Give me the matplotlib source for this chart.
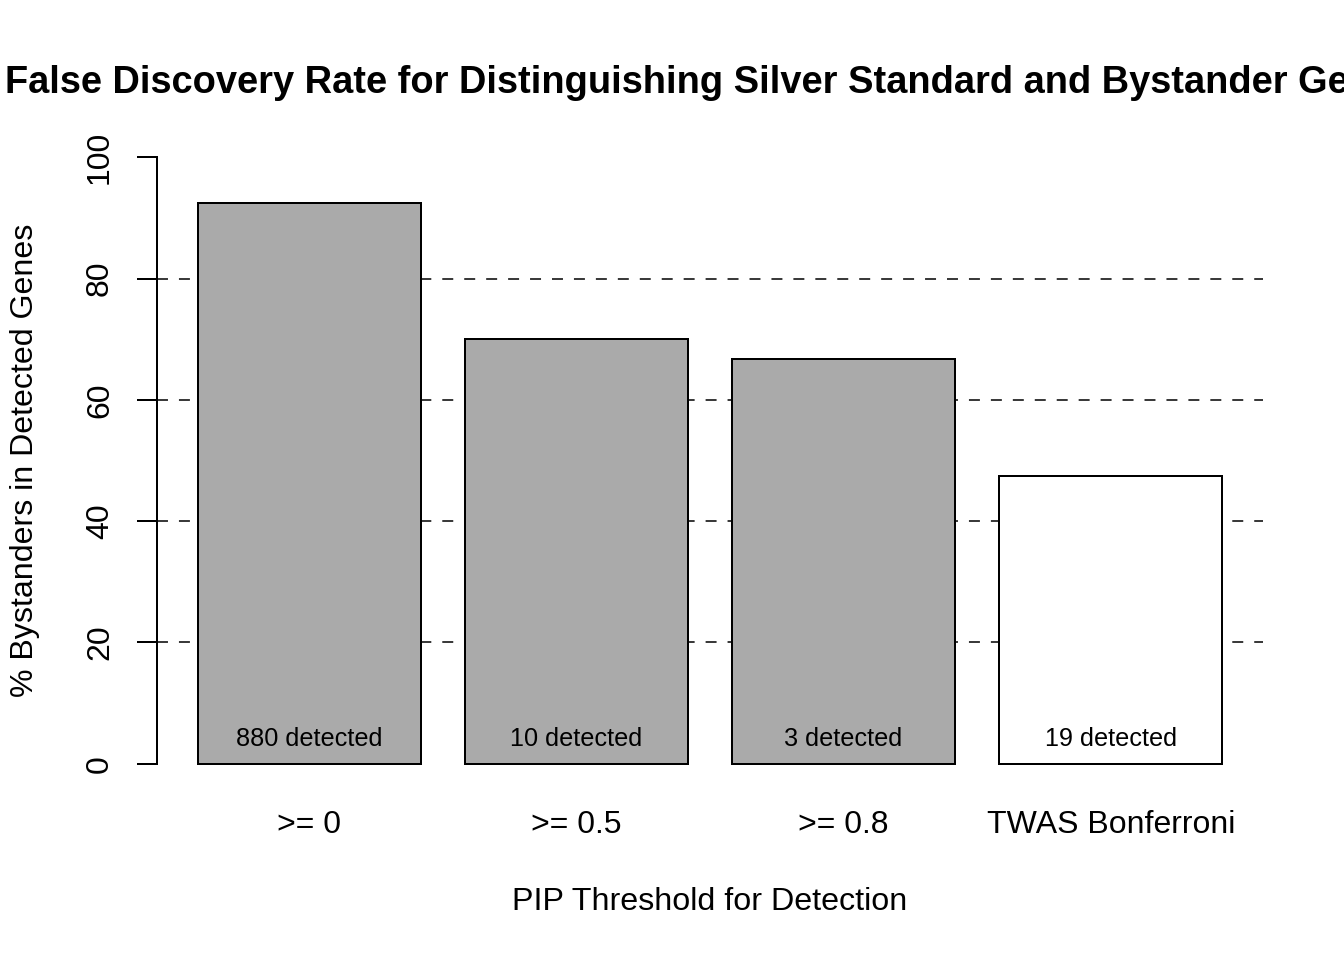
import matplotlib
matplotlib.use("Agg")
import matplotlib.pyplot as plt

categories = [">= 0", ">= 0.5", ">= 0.8", "TWAS Bonferroni"]
pct_bystanders = [92.39, 70.0, 66.67, 47.37]
n_detected = [880, 10, 3, 19]
bar_colors = ["#AAAAAA", "#AAAAAA", "#AAAAAA", "#FFFFFF"]
yticks = [0, 20, 40, 60, 80, 100]

plt.rcParams['font.family'] = ['Liberation Sans', 'DejaVu Sans']
plt.rcParams['lines.scale_dashes'] = False

W, H = 1344, 960
fig = plt.figure(figsize=(W / 100, H / 100), dpi=100)
left, right, bottom, top = 157, 1263, 788, 133
ax = fig.add_axes([left / W, 1 - bottom / H, (right - left) / W, (bottom - top) / H])

x = [0.7 + 1.2 * i for i in range(len(categories))]
ax.bar(x, pct_bystanders, width=1.0, color=bar_colors, edgecolor="black",
       linewidth=1.44, zorder=3)
for yv in yticks[1:-1]:
    ax.axhline(yv, color="black", linewidth=1.1, linestyle=(0, (7.9, 7.9)), zorder=1)

for xi, n in zip(x, n_detected):
    ax.text(xi, 4.1, f"{n} detected", ha="center", va="center", fontsize=18.2, zorder=4)

ax.set_xlim(0.016, 4.984)
ax.set_ylim(-4, 104)

for s in ["top", "right", "bottom"]:
    ax.spines[s].set_visible(False)
ax.spines["left"].set_bounds(0, 100)
ax.spines["left"].set_linewidth(1.44)

ax.set_yticks(yticks)
ax.set_yticklabels([str(v) for v in yticks], rotation=90, va="center", ha="center", fontsize=23)
ax.tick_params(axis="y", length=14.4, width=1.44, pad=26.6)

ax.set_xticks(x)
ax.set_xticklabels(categories, fontsize=23, va="center")
ax.tick_params(axis="x", length=0, pad=26.5)

ax.set_xlabel("PIP Threshold for Detection", fontsize=23.2, va="center")
ax.xaxis.set_label_coords(0.5, (bottom - 902) / (bottom - top))
ax.set_ylabel("% Bystanders in Detected Genes", fontsize=23.1, va="center")
ax.yaxis.set_label_coords((25 - left) / (right - left), 0.5)

fig.text(710 / W, 1 - 93 / H,
         "False Discovery Rate for Distinguishing Silver Standard and Bystander Genes",
         ha="center", va="baseline", fontsize=27.4, fontweight="bold")

fig.savefig("out.png", dpi=100)
